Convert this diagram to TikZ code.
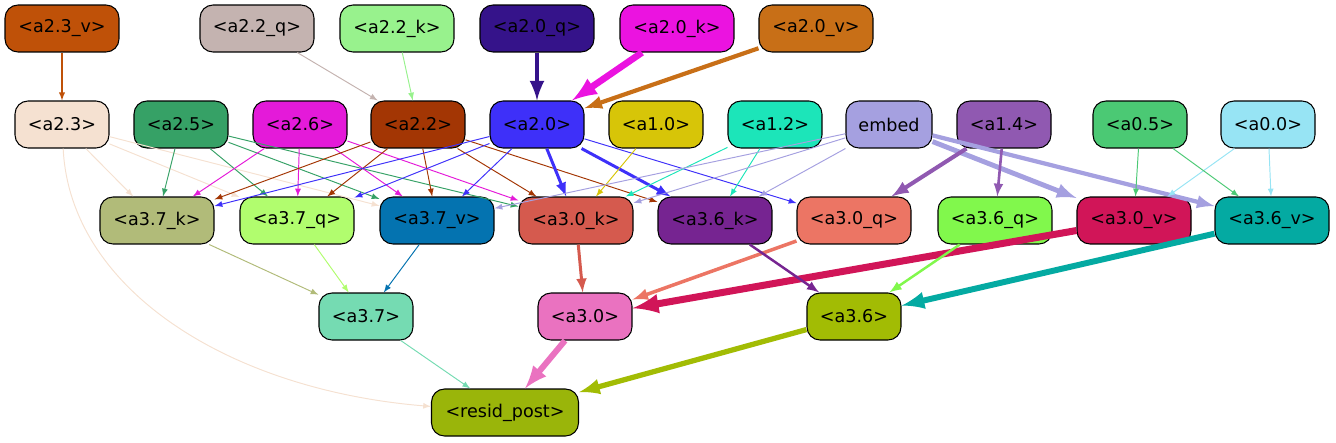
\documentclass[tikz,border=0pt]{standalone}
\usepackage{fontspec}
\setmainfont{DejaVu Sans}
\usetikzlibrary{arrows}
\definecolor{BurntOrange}{HTML}{BF5108}
\definecolor{LightTaupe}{HTML}{C4B3B0}
\definecolor{MintGreen}{HTML}{98F28D}
\definecolor{DeepIndigo}{HTML}{35138A}
\definecolor{HotMagenta}{HTML}{EB13E0}
\definecolor{Ochre}{HTML}{C86F17}
\definecolor{PaleBisque}{HTML}{F5E1D1}
\definecolor{JadeGreen}{HTML}{36A166}
\definecolor{Fuchsia}{HTML}{E41AD9}
\definecolor{Rust}{HTML}{A33604}
\definecolor{VividBlue}{HTML}{3E30F9}
\definecolor{Mustard}{HTML}{D7C508}
\definecolor{Aquamarine}{HTML}{1CE5B9}
\definecolor{Lavender}{HTML}{A5A0E0}
\definecolor{Amethyst}{HTML}{9059B1}
\definecolor{Emerald}{HTML}{4BC974}
\definecolor{SkyBlue}{HTML}{97E4F4}
\definecolor{Sage}{HTML}{B1BB79}
\definecolor{LimeGreen}{HTML}{B1FD6E}
\definecolor{Cobalt}{HTML}{0473B0}
\definecolor{Brick}{HTML}{D55A4E}
\definecolor{Plum}{HTML}{762491}
\definecolor{Salmon}{HTML}{EC7564}
\definecolor{Chartreuse}{HTML}{81F84C}
\definecolor{Crimson}{HTML}{D11558}
\definecolor{DarkTeal}{HTML}{04AAA2}
\definecolor{Seafoam}{HTML}{75DBB2}
\definecolor{Orchid}{HTML}{EA72C0}
\definecolor{Pear}{HTML}{A2BC04}
\definecolor{MossGreen}{HTML}{9AB50A}

\begin{document}
\begin{tikzpicture}[x=0.02cm, y=-0.02cm,
  box/.style={draw, line width=0.6pt, rounded corners=0.26cm, minimum height=0.94cm,
    minimum width=1.88cm, inner sep=0pt, font=\fontsize{10}{12}\selectfont},
  wide/.style={box, minimum width=2.28cm},
  link/.style={-latex, line width=0.55pt}]
  \useasboundingbox (0,0) rectangle (1336,443);

  % inputs
  \node[wide, fill=BurntOrange] (a23v) at (62,28.5)  {<a2.3\_v>};
  \node[wide, fill=LightTaupe]  (a22q) at (257,28.5) {<a2.2\_q>};
  \node[wide, fill=MintGreen]   (a22k) at (397,28.5) {<a2.2\_k>};
  \node[wide, fill=DeepIndigo]  (a20q) at (537,28.5) {<a2.0\_q>};
  \node[wide, fill=HotMagenta]  (a20k) at (677,28.5) {<a2.0\_k>};
  \node[wide, fill=Ochre]       (a20v) at (816,28.5) {<a2.0\_v>};

  \node[box, fill=PaleBisque] (a23) at (62,124.5)   {<a2.3>};
  \node[box, fill=JadeGreen]  (a25) at (181,124.5)  {<a2.5>};
  \node[box, fill=Fuchsia]    (a26) at (300,124.5)  {<a2.6>};
  \node[box, fill=Rust]       (a22) at (418,124.5)  {<a2.2>};
  \node[box, fill=VividBlue]  (a20) at (537,124.5)  {<a2.0>};
  \node[box, fill=Mustard]    (a10) at (656,124.5)  {<a1.0>};
  \node[box, fill=Aquamarine] (a12) at (775,124.5)  {<a1.2>};
  \node[box, fill=Lavender, minimum width=1.72cm] (embed) at (889,124.5) {embed};
  \node[box, fill=Amethyst]   (a14) at (1004,124.5) {<a1.4>};
  \node[box, fill=Emerald]    (a05) at (1140,124.5) {<a0.5>};
  \node[box, fill=SkyBlue]    (a00) at (1268,124.5) {<a0.0>};

  \node[wide, fill=Sage]       (a37k) at (157,220.5)  {<a3.7\_k>};
  \node[wide, fill=LimeGreen]  (a37q) at (297,220.5)  {<a3.7\_q>};
  \node[wide, fill=Cobalt]     (a37v) at (437,220.5)  {<a3.7\_v>};
  \node[wide, fill=Brick]      (a30k) at (576,220.5)  {<a3.0\_k>};
  \node[wide, fill=Plum]       (a36k) at (715,220.5)  {<a3.6\_k>};
  \node[wide, fill=Salmon]     (a30q) at (854,220.5)  {<a3.0\_q>};
  \node[wide, fill=Chartreuse] (a36q) at (995,220.5)  {<a3.6\_q>};
  \node[wide, fill=Crimson]    (a30v) at (1134,220.5) {<a3.0\_v>};
  \node[wide, fill=DarkTeal]   (a36v) at (1272,220.5) {<a3.6\_v>};

  \node[box, fill=Seafoam] (a37) at (366,316.5) {<a3.7>};
  \node[box, fill=Orchid]  (a30) at (585,316.5) {<a3.0>};
  \node[box, fill=Pear]    (a36) at (854,316.5) {<a3.6>};

  \node[box, fill=MossGreen, minimum width=2.94cm] (resid) at (505,412.5) {<resid\_post>};

  % top row into layer 2
  \draw[link, BurntOrange, line width=0.6pt] (a23v) -- (a23);
  \draw[link, LightTaupe] (a22q) -- (a22);
  \draw[link, MintGreen] (a22k) -- (a22);
  \draw[link, DeepIndigo, line width=2.8pt] (a20q) -- (a20);
  \draw[link, HotMagenta, line width=3.8pt] (a20k) -- (a20);
  \draw[link, Ochre, line width=2.4pt] (a20v) -- (a20);

  % layer 2 into layer 3
  \foreach \dst in {a37k,a37q,a37v}
    \draw[link, PaleBisque] (a23) -- (\dst);
  \draw[link, PaleBisque] (a23) .. controls (70,290) and (230,390) .. (resid);
  \foreach \dst in {a37k,a37q,a37v,a30k}
    \draw[link, JadeGreen] (a25) -- (\dst);
  \foreach \dst in {a37k,a37q,a37v,a30k}
    \draw[link, Fuchsia] (a26) -- (\dst);
  \foreach \dst in {a37k,a37q,a37v,a30k,a36k}
    \draw[link, Rust] (a22) -- (\dst);
  \foreach \dst in {a37k,a37q,a37v,a30q}
    \draw[link, VividBlue] (a20) -- (\dst);
  \foreach \dst in {a30k,a36k}
    \draw[link, VividBlue, line width=1.7pt] (a20) -- (\dst);
  \draw[link, Mustard] (a10) -- (a30k);
  \foreach \dst in {a30k,a36k}
    \draw[link, Aquamarine] (a12) -- (\dst);
  \foreach \dst in {a37v,a30k,a36k}
    \draw[link, Lavender] (embed) -- (\dst);
  \draw[link, Lavender, line width=2.8pt] (embed) -- (a30v);
  \draw[link, Lavender, line width=2.4pt] (embed) -- (a36v);
  \draw[link, Amethyst, line width=2.3pt] (a14) -- (a30q);
  \draw[link, Amethyst, line width=1.5pt] (a14) -- (a36q);
  \foreach \dst in {a30v,a36v}{%
    \draw[link, Emerald] (a05) -- (\dst);
    \draw[link, SkyBlue] (a00) -- (\dst);
  }

  % layer 3 into layer 4
  \draw[link, Sage] (a37k) -- (a37);
  \draw[link, LimeGreen] (a37q) -- (a37);
  \draw[link, Cobalt] (a37v) -- (a37);
  \draw[link, Brick, line width=1.7pt] (a30k) -- (a30);
  \draw[link, Salmon, line width=2pt] (a30q) -- (a30);
  \draw[link, Crimson, line width=4pt] (a30v) -- (a30);
  \draw[link, Plum, line width=1.4pt] (a36k) -- (a36);
  \draw[link, Chartreuse, line width=1.4pt] (a36q) -- (a36);
  \draw[link, DarkTeal, line width=3.4pt] (a36v) -- (a36);

  % into the output
  \draw[link, Seafoam] (a37) -- (resid);
  \draw[link, Orchid, line width=3.4pt] (a30) -- (resid);
  \draw[link, Pear, line width=3pt] (a36) -- (resid);
\end{tikzpicture}
\end{document}
